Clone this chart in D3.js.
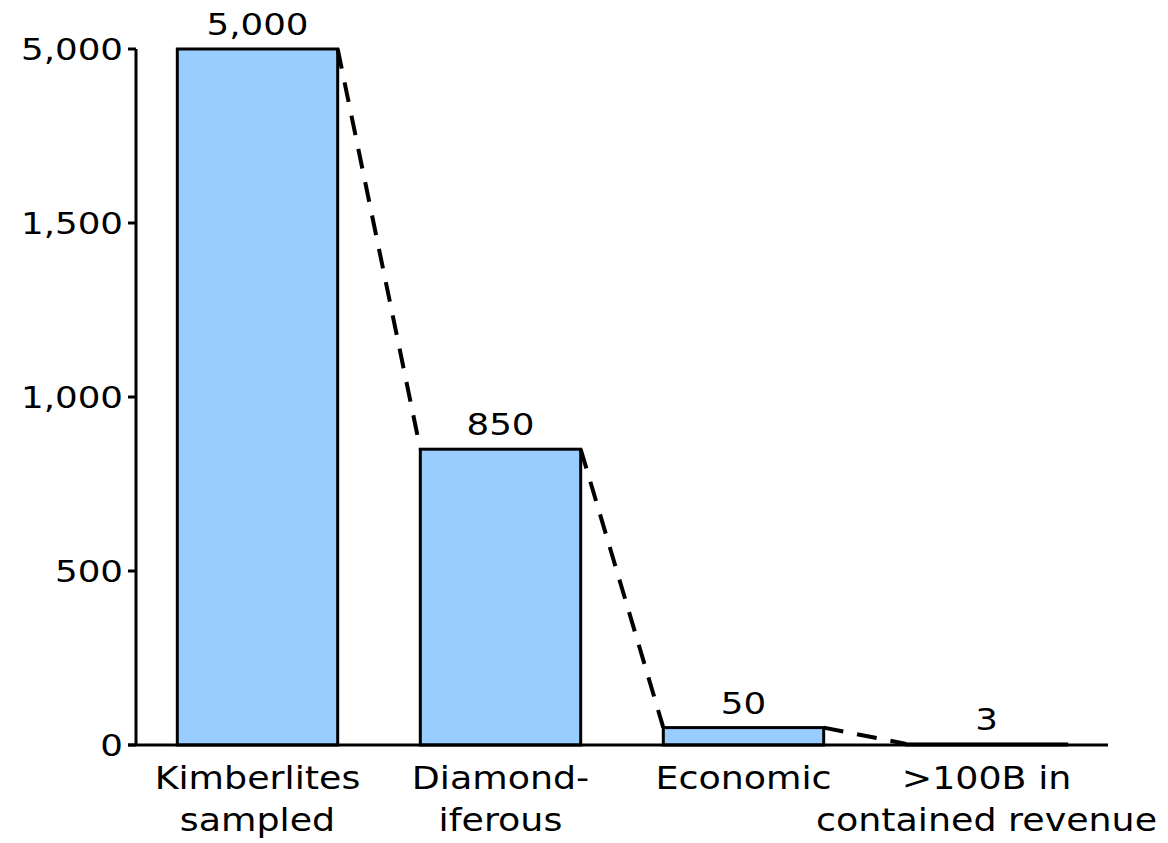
<!DOCTYPE html>
<html>
<head>
<meta charset="utf-8">
<script src="https://cdn.jsdelivr.net/npm/d3@7"></script>
<style>
  body { margin: 0; background: #fff; }
  svg { display: block; }
  text { font-family: "DejaVu Sans", Verdana, sans-serif; fill: #000; }
</style>
</head>
<body>
<svg id="chart" width="1168" height="843"></svg>
<script>
// chart values
var categories = ["Kimberlites\nsampled", "Diamond-\niferous", "Economic", ">100B in\ncontained revenue"];
var counts = [5000, 850, 50, 3];
var countLabels = ["5,000", "850", "50", "3"];

// broken y axis: top tick stands for 5,000
var tickValues = [0, 500, 1000, 1500, 2000];
var tickLabels = ["0", "500", "1,000", "1,500", "5,000"];
var axisCap = 2000;

var svg = d3.select("#chart");

var x = d3.scaleBand()
    .domain(categories)
    .range([136, 1108])
    .paddingInner(0.34)
    .paddingOuter(0.17);

var y = d3.scaleLinear()
    .domain([0, axisCap])
    .range([745, 49]);

// text in the source looks horizontally stretched
function label(parent, px, py, str, size, stretch, anchor, baseline) {
    var g = parent.append("g")
        .attr("transform", "translate(" + px + "," + py + ") scale(" + stretch + ",1)");
    g.append("text")
        .attr("text-anchor", anchor)
        .attr("dominant-baseline", baseline || "auto")
        .style("font-size", size + "px")
        .text(str);
    return g;
}

// bars
var barData = categories.map(function(c, i) {
    return { cat: c, value: counts[i], shown: Math.min(counts[i], axisCap), label: countLabels[i] };
});

svg.append("g")
    .selectAll("rect")
    .data(barData)
    .enter().append("rect")
    .attr("x", function(d) { return x(d.cat); })
    .attr("y", function(d) { return y(d.shown); })
    .attr("width", x.bandwidth())
    .attr("height", function(d) { return y(0) - y(d.shown); })
    .attr("fill", "#99ccff")
    .attr("stroke", "#000")
    .attr("stroke-width", 3);

// dashed connectors, top right of one bar to top left of the next
var links = d3.pairs(barData);
svg.append("g")
    .selectAll("line")
    .data(links)
    .enter().append("line")
    .attr("x1", function(d) { return x(d[0].cat) + x.bandwidth(); })
    .attr("y1", function(d) { return y(d[0].shown); })
    .attr("x2", function(d) { return x(d[1].cat); })
    .attr("y2", function(d) { return y(d[1].shown); })
    .attr("stroke", "#000")
    .attr("stroke-width", 4)
    .attr("stroke-dasharray", "20,14");

// axes
var axisG = svg.append("g");
axisG.append("line")
    .attr("x1", 136).attr("x2", 136)
    .attr("y1", y(axisCap)).attr("y2", y(0))
    .attr("stroke", "#000").attr("stroke-width", 3);
axisG.append("line")
    .attr("x1", 128).attr("x2", 1108)
    .attr("y1", y(0)).attr("y2", y(0))
    .attr("stroke", "#000").attr("stroke-width", 3);

axisG.selectAll(".tick")
    .data(tickValues)
    .enter().append("line")
    .attr("class", "tick")
    .attr("x1", 128).attr("x2", 136)
    .attr("y1", function(d) { return y(d); })
    .attr("y2", function(d) { return y(d); })
    .attr("stroke", "#000").attr("stroke-width", 3);

tickValues.forEach(function(t, i) {
    label(axisG, 123, y(t), tickLabels[i], 31, 1.15, "end", "central");
});

// value labels over bars
barData.forEach(function(d) {
    label(svg, x(d.cat) + x.bandwidth() / 2, y(d.shown) - 14, d.label, 31, 1.15, "middle");
});

// category labels
categories.forEach(function(c) {
    c.split("\n").forEach(function(line, j) {
        label(svg, x(c) + x.bandwidth() / 2, 789 + j * 42, line, 32.5, 1.12, "middle");
    });
});
</script>
</body>
</html>
